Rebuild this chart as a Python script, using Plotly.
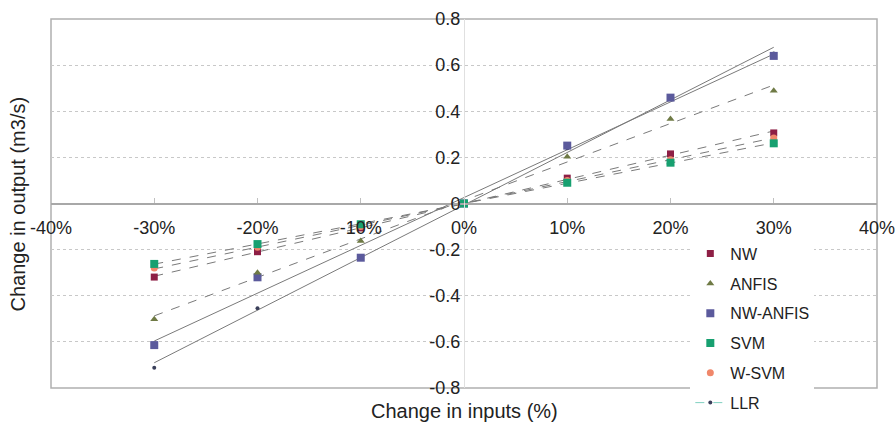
import numpy as np
import plotly.graph_objects as go

# ---- data ----
x_pct = [-30, -20, -10, 0, 10, 20, 30]
nw = [-0.319, -0.209, -0.106, 0.0, 0.11, 0.215, 0.306]
anfis = [-0.502, -0.300, -0.163, 0.0, 0.203, 0.366, 0.489]
nw_anfis = [-0.614, -0.320, -0.235, 0.0, 0.251, 0.459, 0.640]
svm = [-0.262, -0.176, -0.090, 0.0, 0.090, 0.177, 0.261]
w_svm = [-0.280, -0.190, -0.100, 0.0, 0.100, 0.190, 0.284]
llr = [-0.712, -0.454, -0.230, 0.0, 0.240, 0.460, 0.650]

x_tickvals = [-40, -30, -20, -10, 0, 10, 20, 30, 40]
x_ticktext = ["-40%", "-30%", "-20%", "-10%", "0%", "10%", "20%", "30%", "40%"]
y_tickvals = [-0.8, -0.6, -0.4, -0.2, 0, 0.2, 0.4, 0.6, 0.8]
y_ticktext = ["-0.8", "-0.6", "-0.4", "-0.2", "0", "0.2", "0.4", "0.6", "0.8"]

series = [
    # name, values, color, symbol, size, trend dash, legendrank
    ("LLR", llr, "#3a3f5a", "circle", 4, "solid", 6),
    ("NW-ANFIS", nw_anfis, "#5b5a9c", "square", 8, "solid", 3),
    ("ANFIS", anfis, "#6f7a45", "triangle-up", 7, "dash", 2),
    ("NW", nw, "#8e1f45", "square", 7, "dash", 1),
    ("W-SVM", w_svm, "#f0876a", "circle", 7, "dash", 5),
    ("SVM", svm, "#17a070", "square", 8, "dash", 4),
]

fig = go.Figure()

# linear trendlines computed from the data
xa = np.array(x_pct, dtype=float)
for name, vals, color, sym, size, dash, rank in series:
    k, b = np.polyfit(xa, np.array(vals), 1)
    xs = np.array([xa.min(), xa.max()])
    fig.add_trace(go.Scatter(
        x=xs, y=k * xs + b, mode="lines",
        line=dict(color="#7a7a7a", width=1, dash=dash),
        showlegend=False, hoverinfo="skip"))

for name, vals, color, sym, size, dash, rank in series:
    if name == "LLR":
        fig.add_trace(go.Scatter(
            x=x_pct, y=vals, mode="markers", name=name,
            marker=dict(color=color, size=size, symbol=sym),
            legendrank=rank, legendgroup=name, showlegend=False))
        fig.add_trace(go.Scatter(
            x=[None], y=[None], mode="lines+markers", name=name,
            line=dict(color="#7fd0c0", width=1, dash="dash"),
            marker=dict(color=color, size=size, symbol=sym),
            legendrank=rank, legendgroup=name))
    else:
        fig.add_trace(go.Scatter(
            x=x_pct, y=vals, mode="markers", name=name,
            marker=dict(color=color, size=size, symbol=sym),
            legendrank=rank, legendgroup=name))

fig.update_layout(
    width=896, height=426,
    margin=dict(l=51, r=19, t=19, b=38, autoexpand=False),
    plot_bgcolor="white", paper_bgcolor="white",
    font=dict(family="Liberation Sans, Arial, sans-serif", color="#222"),
    xaxis=dict(
        range=[-40, 40], tickvals=x_tickvals, ticktext=x_ticktext,
        showgrid=False, zeroline=False,
        showline=True, linecolor="#a8a8a8", linewidth=1.5,
        anchor="free", position=0.5,
        ticks="inside", ticklen=5, tickcolor="#c0c0c0",
        tickfont=dict(size=18, color="#222"),
        ticklabelstandoff=8,
    ),
    yaxis=dict(
        range=[-0.8, 0.8], tickvals=y_tickvals, ticktext=y_ticktext,
        showgrid=True, gridcolor="#c8c8c8", griddash="dot", gridwidth=1,
        zeroline=False,
        showline=True, linecolor="#e0e0e0", linewidth=1,
        anchor="free", position=0.5,
        ticks="", tickfont=dict(size=18, color="#222"),
    ),
    legend=dict(
        x=0.774, y=0.41, xanchor="left", yanchor="top",
        bgcolor="white", font=dict(size=16, color="#222"),
        traceorder="grouped", tracegroupgap=6,
    ),
    shapes=[dict(type="rect", xref="paper", yref="paper", x0=0, y0=0, x1=1, y1=1,
                 line=dict(color="#b0b0b0", width=1.5), layer="below")],
    annotations=[
        dict(text="Change in inputs (%)", xref="paper", yref="paper",
             x=0.5, y=-0.062, xanchor="center", yanchor="middle",
             showarrow=False, font=dict(size=20, color="#222")),
        dict(text="Change in output (m3/s)", xref="paper", yref="paper",
             x=-0.04, y=0.5, xanchor="center", yanchor="middle", textangle=-90,
             showarrow=False, font=dict(size=20, color="#222")),
    ],
)

fig.write_html("out.html", config={"displayModeBar": False},
               post_script="document.body.style.margin='0';")
